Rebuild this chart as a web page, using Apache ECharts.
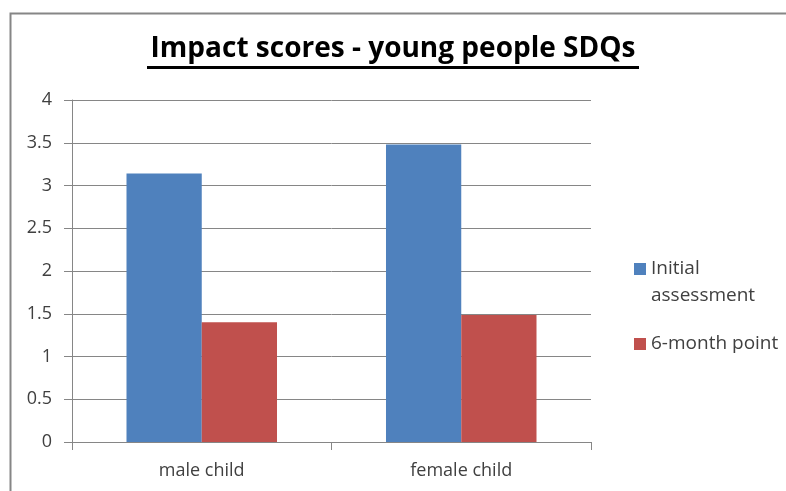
<!DOCTYPE html>
<html>
<head>
<meta charset="utf-8">
<script src="https://cdn.jsdelivr.net/npm/echarts@6/dist/echarts.min.js"></script>
<style>html,body{margin:0;padding:0;background:#fff}#c{width:786px;height:491px}</style>
</head>
<body>
<div id="c"></div>
<script>
const categories = ['male child', 'female child'];
const seriesNames = ['Initial assessment', '6-month point'];
const initialAssessment = [3.14, 3.48];
const sixMonthPoint = [1.40, 1.485];
const yTicks = [0, 0.5, 1, 1.5, 2, 2.5, 3, 3.5, 4];
const titleText = 'Impact scores - young people SDQs';

const chart = echarts.init(document.getElementById('c'), null, {renderer: 'canvas'});
const FONT = 'Open Sans';
const TXT = '#404040';
const GRID = '#868686';

chart.setOption({
  animation: false,
  backgroundColor: '#fff',
  title: {
    text: titleText,
    left: 'center',
    top: 35,
    padding: 0,
    textStyle: {fontFamily: FONT, fontWeight: 'bold', fontSize: 28, color: '#000'}
  },
  graphic: [
    {type: 'rect', left: 8, top: 11, shape: {width: 800, height: 500}, style: {fill: 'none', stroke: GRID, lineWidth: 2}, silent: true},
    {type: 'rect', left: 147, top: 66, shape: {width: 492, height: 3}, style: {fill: '#000'}, silent: true}
  ],
  legend: [
    {
      orient: 'vertical', left: 634, top: 228.5, itemWidth: 12, itemHeight: 12, padding: 0,
      icon: 'rect',
      formatter: function (n) { return '\n' + n.replace(' ', '\n'); },
      data: [seriesNames[0]],
      textStyle: {fontFamily: FONT, fontSize: 19, color: TXT, lineHeight: 27}
    },
    {
      orient: 'vertical', left: 634, top: 330.5, itemWidth: 12, itemHeight: 12, padding: 0,
      icon: 'rect',
      data: [seriesNames[1]],
      textStyle: {fontFamily: FONT, fontSize: 19, color: TXT, lineHeight: 27}
    }
  ],
  grid: {left: 72, right: 195, top: 100, bottom: 49, containLabel: false},
  xAxis: {
    type: 'category',
    data: categories,
    axisLine: {lineStyle: {color: GRID, width: 1}},
    axisTick: {show: true, length: 8, lineStyle: {color: GRID}},
    axisLabel: {fontFamily: FONT, fontSize: 18, color: TXT, margin: 20}
  },
  yAxis: {
    type: 'value',
    min: yTicks[0],
    max: yTicks[yTicks.length - 1],
    interval: 0.5,
    axisLine: {show: true, lineStyle: {color: GRID, width: 1}},
    axisTick: {show: true, length: 8, lineStyle: {color: GRID}},
    axisLabel: {fontFamily: FONT, fontSize: 18, color: TXT, margin: 20},
    splitLine: {show: true, lineStyle: {color: GRID, width: 1}}
  },
  series: [
    {name: seriesNames[0], type: 'bar', data: initialAssessment, barGap: '0%', barCategoryGap: '42%',
     itemStyle: {color: '#4F81BD'}},
    {name: seriesNames[1], type: 'bar', data: sixMonthPoint, barGap: '0%', barCategoryGap: '42%',
     itemStyle: {color: '#C0504D'}}
  ]
});
</script>
</body>
</html>
